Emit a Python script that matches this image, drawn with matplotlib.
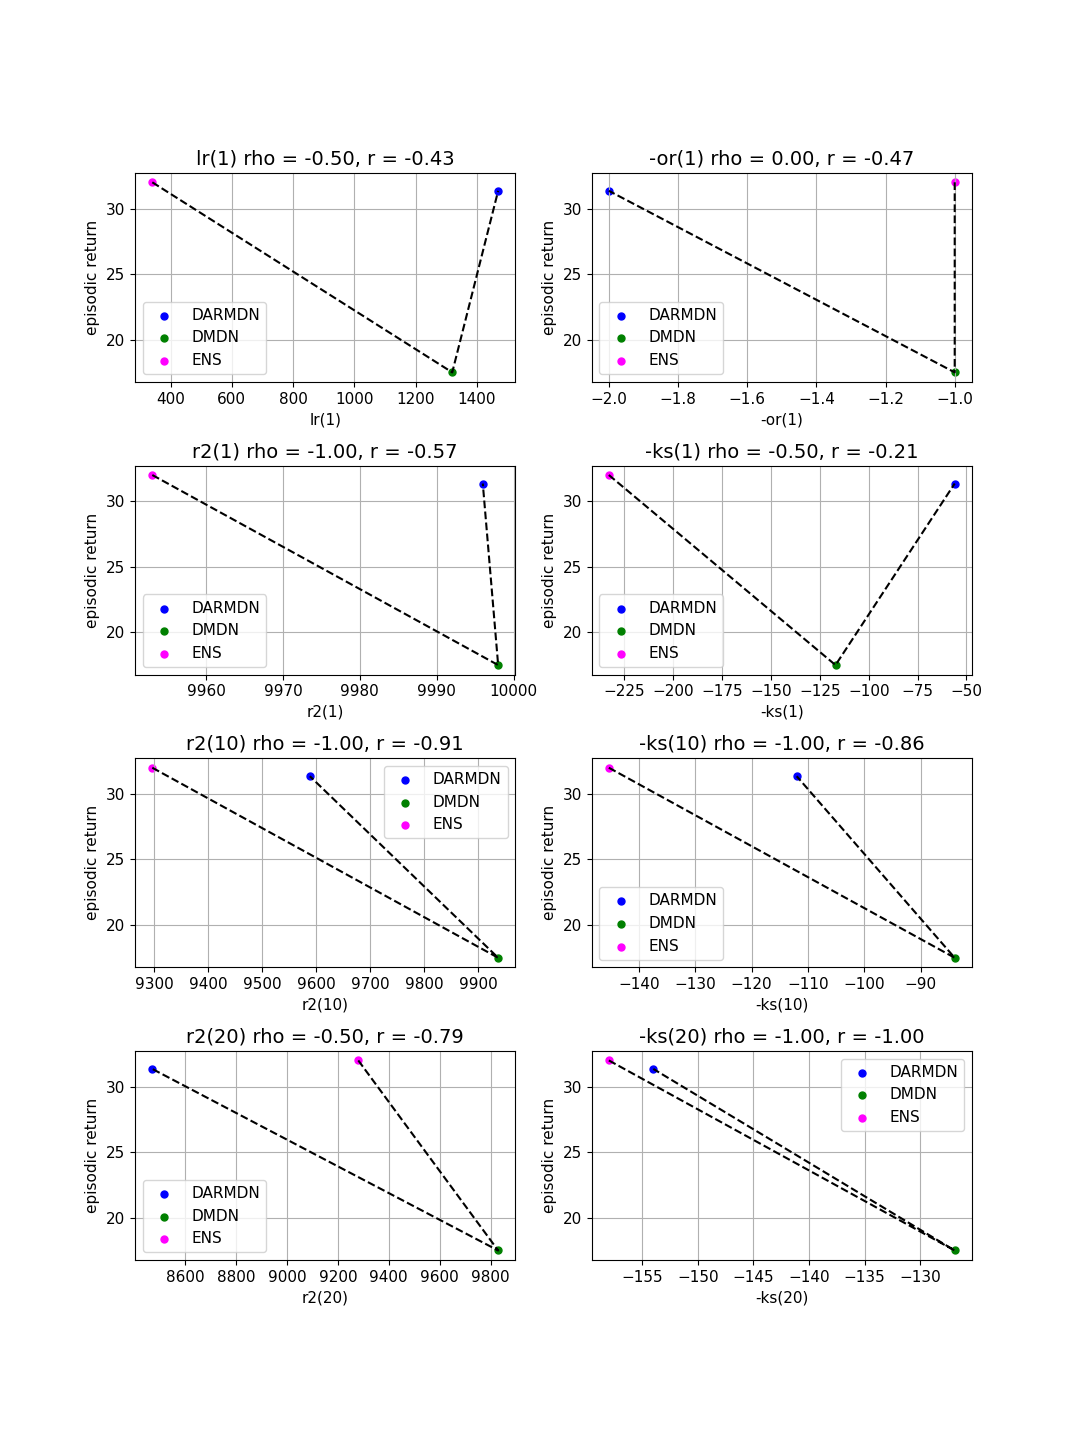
import numpy as np
import matplotlib
matplotlib.use('Agg')
from matplotlib import pyplot as plt

models = ['DARMDN', 'DMDN', 'ENS']
colors = ['blue', 'green', 'magenta']
returns = [31.35, 17.5, 32.0]

metrics = ['lr(1)', '-or(1)', 'r2(1)', '-ks(1)', 'r2(10)', '-ks(10)', 'r2(20)', '-ks(20)']
rhos = [-0.50, 0.00, -1.00, -0.50, -1.00, -1.00, -0.50, -1.00]
rs = [-0.43, -0.47, -0.57, -0.21, -0.91, -0.86, -0.79, -1.00]

# metric values per model: DARMDN, DMDN, ENS
lr1 = [1470, 1320, 340]
or1 = [-2.0, -1.0, -1.0]
r2_1 = [9996, 9998, 9953]
ks1 = [-56, -117, -233]
r2_10 = [9588, 9937, 9296]
ks10 = [-112, -84, -145.3]
r2_20 = [8470, 9830, 9280]
ks20 = [-154.0, -126.9, -158.0]
values = [lr1, or1, r2_1, ks1, r2_10, ks10, r2_20, ks20]

legend_loc = ['lower left', 'lower left', 'lower left', 'lower left',
              'upper right', 'lower left', 'lower left', 'upper right']

plt.rcParams['font.size'] = 11
fig, axes = plt.subplots(4, 2, figsize=(10.8, 14.4), dpi=100)
fig.subplots_adjust(left=0.125, right=0.9, top=0.88, bottom=0.125, hspace=0.4)

for i, ax in enumerate(axes.flat):
    x = values[i]
    for j in range(3):
        ax.scatter(x[j], returns[j], c=colors[j], s=25, label=models[j])
    # path through DMDN in the middle
    order = [2, 1, 0]
    ax.plot([x[k] for k in order], [returns[k] for k in order], 'k--')
    ax.set_title('%s rho = %.2f, r = %.2f' % (metrics[i], rhos[i], rs[i]), fontsize=14)
    ax.set_xlabel(metrics[i])
    ax.set_ylabel('episodic return')
    ax.grid(True)
    ax.legend(loc=legend_loc[i])

plt.savefig('out.png')
